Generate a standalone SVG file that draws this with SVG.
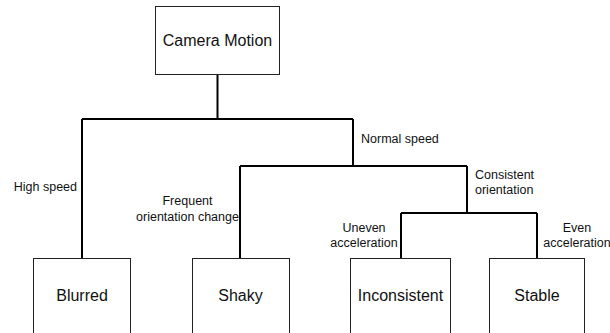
<svg xmlns="http://www.w3.org/2000/svg" width="610" height="333" viewBox="0 0 610 333">
<style>
.box{fill:#fff;stroke:#222;stroke-width:1}
.node{font-family:"Liberation Sans",Arial,sans-serif;font-size:16px;fill:#111;text-anchor:middle}
.lbl{font-family:"Liberation Sans",Arial,sans-serif;font-size:12.5px;fill:#111}
.conn{fill:none;stroke:#000;stroke-width:2}
</style>
<rect width="610" height="333" fill="#fff"/>
<g id="connectors">
<path class="conn" d="M217.5 74 V119 M82 119 H353 M82 119 V258 M353 119 V166 M240 166 H467 M240 166 V258 M467 166 V213 M401 213 H537 M401 213 V258 M537 213 V258"/>
</g>
<g id="labels">
<text class="lbl" x="77" y="191" text-anchor="end">High speed</text>
<text class="lbl" x="361" y="143">Normal speed</text>
<text class="lbl" x="187.5" y="205" text-anchor="middle">Frequent</text>
<text class="lbl" x="187.5" y="221" text-anchor="middle">orientation change</text>
<text class="lbl" x="475" y="179">Consistent</text>
<text class="lbl" x="475" y="194">orientation</text>
<text class="lbl" x="364" y="232" text-anchor="middle">Uneven</text>
<text class="lbl" x="364" y="247" text-anchor="middle">acceleration</text>
<text class="lbl" x="577" y="232" text-anchor="middle">Even</text>
<text class="lbl" x="577" y="247" text-anchor="middle">acceleration</text>
</g>
<g id="camera-motion">
<rect class="box" x="155.5" y="6.5" width="124" height="68"/>
<text class="node" x="217.5" y="46">Camera Motion</text>
</g>
<g id="blurred">
<rect class="box" x="33.5" y="258.5" width="97" height="90"/>
<text class="node" x="82" y="301">Blurred</text>
</g>
<g id="shaky">
<rect class="box" x="192.5" y="258.5" width="97" height="90"/>
<text class="node" x="240.5" y="301">Shaky</text>
</g>
<g id="inconsistent">
<rect class="box" x="350.5" y="258.5" width="100" height="90"/>
<text class="node" x="400.5" y="301">Inconsistent</text>
</g>
<g id="stable">
<rect class="box" x="489.5" y="258.5" width="95" height="90"/>
<text class="node" x="537" y="301">Stable</text>
</g>
</svg>
